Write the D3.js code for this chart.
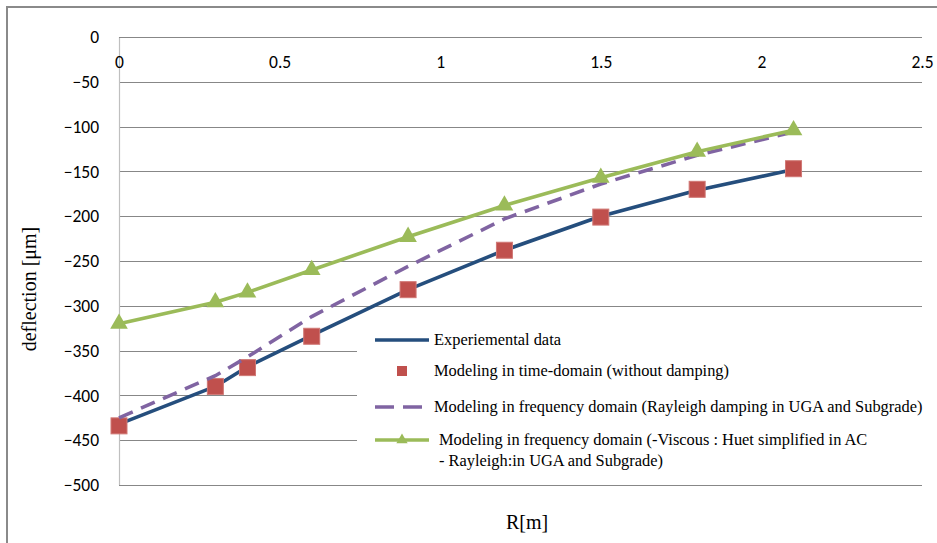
<!DOCTYPE html>
<html>
<head>
<meta charset="utf-8">
<script src="https://cdn.jsdelivr.net/npm/d3@7"></script>
<style>
  html, body { margin: 0; padding: 0; background: #fff; }
  svg { display: block; }
  .tick text { font-family: Carlito, Calibri, "Open Sans", sans-serif; font-size: 17.5px; fill: #000; }
  .serif { font-family: "Liberation Serif", "Times New Roman", serif; fill: #000; }
</style>
</head>
<body>
<svg id="chart" width="937" height="543"></svg>
<script>
// Radial distance from the load centre [m]
const rValues = [0, 0.3, 0.4, 0.6, 0.9, 1.2, 1.5, 1.8, 2.1];

// Surface deflection [μm] for each series
const experimental = [-432, -390, -368, -333, -282, -238, -200, -171, -148];
const timeDomain   = [-434, -390, -369, -334, -282, -238, -201, -170, -147];
const freqRayleigh = [-425, -378, -357, -312, -256, -203, -164, -132, -106];
const freqViscous  = [-320, -296, -285, -260, -223, -188, -157, -128, -104];

const xTicks = [0, 0.5, 1, 1.5, 2, 2.5];
const yTicks = [0, -50, -100, -150, -200, -250, -300, -350, -400, -450, -500];

const legendLabels = [
  ["Experiemental data"],
  ["Modeling in time-domain (without damping)"],
  ["Modeling in frequency domain (Rayleigh damping in UGA and Subgrade)"],
  ["Modeling in frequency domain (-Viscous : Huet simplified in AC", "- Rayleigh:in UGA and Subgrade)"]
];

const colors = {
  blue: "#254E7D",
  red: "#C0504D",
  purple: "#8064A2",
  green: "#9BBB59",
  grid: "#878787",
  yAxis: "#BFBFBF",
  frame: "#8A8A8A"
};

const svg = d3.select("#chart");
const plot = { left: 119, right: 922, top: 37, bottom: 485 };

const x = d3.scaleLinear().domain([0, 2.5]).range([plot.left, plot.right]);
const y = d3.scaleLinear().domain([-500, 0]).range([plot.bottom, plot.top]);

// Outer frame (top and left edges)
svg.append("path")
  .attr("d", "M7,543 L7,7 L937,7")
  .attr("fill", "none")
  .attr("stroke", colors.frame)
  .attr("stroke-width", 2);

// Horizontal gridlines
svg.append("g")
  .selectAll("line")
  .data(yTicks.filter(v => v !== 0))
  .join("line")
  .attr("x1", plot.left).attr("x2", plot.right)
  .attr("y1", d => Math.round(y(d)) + 0.5).attr("y2", d => Math.round(y(d)) + 0.5)
  .attr("stroke", colors.grid)
  .attr("stroke-width", 1);

// Vertical value axis line
svg.append("line")
  .attr("x1", plot.left + 0.5).attr("x2", plot.left + 0.5)
  .attr("y1", plot.top).attr("y2", plot.bottom)
  .attr("stroke", colors.yAxis)
  .attr("stroke-width", 1.2);

// Category axis along deflection = 0
svg.append("line")
  .attr("x1", plot.left).attr("x2", plot.right)
  .attr("y1", Math.round(y(0)) + 0.5).attr("y2", Math.round(y(0)) + 0.5)
  .attr("stroke", colors.grid)
  .attr("stroke-width", 1.2);

// Tick labels
const xAxis = d3.axisBottom(x).tickValues(xTicks).tickSize(0).tickPadding(19)
  .tickFormat(d3.format("~g"));
svg.append("g")
  .attr("transform", `translate(0,${y(0)})`)
  .call(xAxis)
  .call(g => g.select(".domain").remove());

const yAxis = d3.axisLeft(y).tickValues(yTicks).tickSize(0).tickPadding(20)
  .tickFormat(d3.format("~g"));
svg.append("g")
  .attr("transform", `translate(${plot.left},0)`)
  .call(yAxis)
  .call(g => g.select(".domain").remove());

// Axis titles
svg.append("text")
  .attr("class", "serif")
  .attr("transform", "translate(36,289) rotate(-90)")
  .attr("text-anchor", "middle")
  .attr("font-size", 20)
  .text("deflection [μm]");

svg.append("text")
  .attr("class", "serif")
  .attr("x", 527).attr("y", 529)
  .attr("text-anchor", "middle")
  .attr("font-size", 20)
  .text("R[m]");

// Legend panel covers the gridlines behind it
const legend = svg.append("g");
legend.append("rect")
  .attr("x", 357).attr("y", 318)
  .attr("width", 580).attr("height", 160)
  .attr("fill", "#fff");

const line = d3.line()
  .x((d, i) => x(rValues[i]))
  .y(d => y(d));

// Series 1: experimental data (solid blue line)
svg.append("path")
  .datum(experimental)
  .attr("d", line)
  .attr("fill", "none")
  .attr("stroke", colors.blue)
  .attr("stroke-width", 3.6)
  .attr("stroke-linejoin", "round")
  .attr("stroke-linecap", "round");

// Series 2: time-domain model (square markers only)
const sq = 16;
svg.append("g")
  .selectAll("rect")
  .data(timeDomain)
  .join("rect")
  .attr("x", (d, i) => x(rValues[i]) - sq / 2)
  .attr("y", d => y(d) - sq / 2)
  .attr("width", sq).attr("height", sq)
  .attr("fill", colors.red)
  .attr("stroke", "#D07875")
  .attr("stroke-width", 1);

// Series 3: frequency-domain model with Rayleigh damping (dashed purple)
svg.append("path")
  .datum(freqRayleigh)
  .attr("d", line)
  .attr("fill", "none")
  .attr("stroke", colors.purple)
  .attr("stroke-width", 3.6)
  .attr("stroke-dasharray", "15,9");

// Series 4: frequency-domain viscous model (green line with triangles)
svg.append("path")
  .datum(freqViscous)
  .attr("d", line)
  .attr("fill", "none")
  .attr("stroke", colors.green)
  .attr("stroke-width", 3.6)
  .attr("stroke-linejoin", "round");

const tri = d3.symbol(d3.symbolTriangle, 135);
svg.append("g")
  .selectAll("path")
  .data(freqViscous)
  .join("path")
  .attr("d", tri)
  .attr("transform", (d, i) => `translate(${x(rValues[i])},${y(d)})`)
  .attr("fill", colors.green);

// Legend entries
const rows = [340, 371, 407, 440];
const sx1 = 375, sx2 = 429, sxm = (sx1 + sx2) / 2;

legend.append("line")
  .attr("x1", sx1).attr("x2", sx2).attr("y1", rows[0]).attr("y2", rows[0])
  .attr("stroke", colors.blue).attr("stroke-width", 3.6);

legend.append("rect")
  .attr("x", sxm - 5).attr("y", rows[1] - 5)
  .attr("width", 10).attr("height", 10)
  .attr("fill", colors.red);

legend.append("line")
  .attr("x1", sx1).attr("x2", sx2).attr("y1", rows[2]).attr("y2", rows[2])
  .attr("stroke", colors.purple).attr("stroke-width", 3.6)
  .attr("stroke-dasharray", "19,9");

legend.append("line")
  .attr("x1", sx1).attr("x2", sx2).attr("y1", rows[3]).attr("y2", rows[3])
  .attr("stroke", colors.green).attr("stroke-width", 3.6);
legend.append("path")
  .attr("d", d3.symbol(d3.symbolTriangle, 55))
  .attr("transform", `translate(${sxm},${rows[3]})`)
  .attr("fill", colors.green);

legendLabels.forEach((lines, i) => {
  const tx = i === 3 ? 439 : 434;
  const t = legend.append("text")
    .attr("class", "serif")
    .attr("font-size", 16.4)
    .attr("x", tx)
    .attr("y", rows[i]);
  lines.forEach((s, j) => {
    t.append("tspan")
      .attr("x", tx)
      .attr("dy", j === 0 ? "0.32em" : "1.25em")
      .text(s);
  });
});
</script>
</body>
</html>
